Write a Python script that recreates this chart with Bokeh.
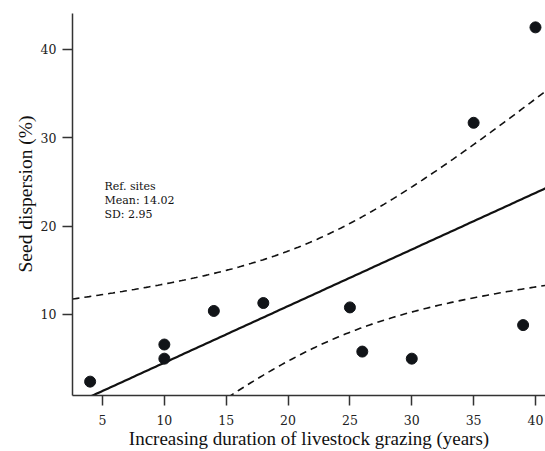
import numpy as np
from bokeh.plotting import figure
from bokeh.models import Range1d, Label, FixedTicker, Title
from bokeh.embed import file_html
from bokeh.resources import INLINE

# Data
years = [4, 10, 10, 14, 18, 25, 26, 30, 35, 39, 40]
dispersion = [2.4, 6.6, 5.0, 10.4, 11.3, 10.8, 5.8, 5.0, 31.7, 8.8, 42.5]
x_ticks = [5, 10, 15, 20, 25, 30, 35, 40]
y_ticks = [10, 20, 30, 40]
note_lines = ["Ref. sites", "Mean: 14.02", "SD: 2.95"]

X0, X1 = 2.575, 40.81
Y0, Y1 = 0.83, 44.07

# Linear fit with 95% band for the mean
x = np.array(years, dtype=float)
y = np.array(dispersion, dtype=float)
n = len(x)
slope, intercept = np.polyfit(x, y, 1)
resid = y - (intercept + slope * x)
s = np.sqrt(np.sum(resid ** 2) / (n - 2))
sxx = np.sum((x - x.mean()) ** 2)
xg = np.linspace(X0, X1, 200)
yg = intercept + slope * xg
se = s * np.sqrt(1.0 / n + (xg - x.mean()) ** 2 / sxx)
upper = yg + 1.96 * se
lower = yg - 1.96 * se

p = figure(width=545, height=451, output_backend="svg", toolbar_location=None,
           x_range=Range1d(X0, X1), y_range=Range1d(Y0, Y1),
           min_border_left=72, min_border_right=0, min_border_top=13, min_border_bottom=56)
p.outline_line_color = None
p.grid.visible = False
p.background_fill_color = "white"
p.border_fill_color = "white"

p.line(xg, upper, line_color="#111111", line_width=1.6, line_dash="7 5")
p.line(xg, lower, line_color="#111111", line_width=1.6, line_dash="7 5")
p.line(xg, yg, line_color="#111111", line_width=2.2)
p.scatter(years, dispersion, size=11, fill_color="#111418", line_color="#111418")

for ax, ticks in ((p.xaxis[0], x_ticks), (p.yaxis[0], y_ticks)):
    ax.ticker = FixedTicker(ticks=ticks)
    ax.minor_tick_line_color = None
    ax.major_tick_in = 0
    ax.major_tick_out = 10
    ax.axis_line_color = "#333333"
    ax.axis_line_width = 1.5
    ax.major_tick_line_color = "#333333"
    ax.major_tick_line_width = 1.5
    ax.major_label_text_font = "DejaVu Serif"
    ax.major_label_text_font_size = "12.5px"
    ax.major_label_text_color = "#222222"

p.xaxis.major_label_standoff = 9
p.yaxis.major_label_standoff = 6
p.xaxis.axis_label = "Increasing duration of livestock grazing (years)"
p.xaxis.axis_label_text_font = "Liberation Serif"
p.xaxis.axis_label_text_font_size = "19px"
p.xaxis.axis_label_text_font_style = "normal"
p.xaxis.axis_label_text_color = "#111111"
p.xaxis.axis_label_standoff = 0

p.add_layout(Title(text="Seed dispersion (%)", align="left", offset=123, standoff=4,
                   text_font="Liberation Serif", text_font_size="19.5px",
                   text_font_style="normal", text_color="#111111"), "left")

for i, t in enumerate(note_lines):
    p.add_layout(Label(x=5.16, y=24.49 - i * 1.585, text=t, text_align="left", text_baseline="middle",
                       text_font="DejaVu Serif", text_font_size="11px", text_color="#111111"))

open("out.html", "w").write(file_html(p, INLINE))
